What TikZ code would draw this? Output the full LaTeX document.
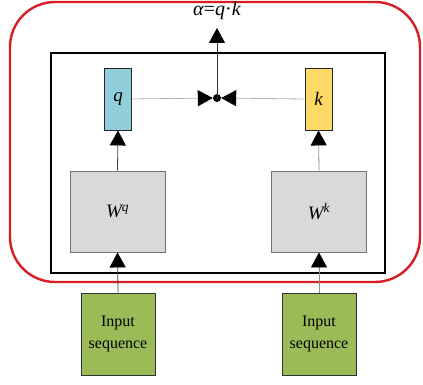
\documentclass[tikz,border=0pt]{standalone}
\usepackage{fontspec}
\setmainfont{Liberation Serif}
\usetikzlibrary{arrows.meta}
\definecolor{framered}{RGB}{214,30,36}
\definecolor{qblue}{RGB}{146,205,220}
\definecolor{kyellow}{RGB}{255,217,102}
\definecolor{wgray}{RGB}{217,217,217}
\definecolor{ingreen}{RGB}{155,187,89}
\tikzset{
  vecbox/.style={draw=black!85, line width=0.9pt, minimum width=27pt, minimum height=62pt, inner sep=0pt, font=\fontsize{19}{19}\selectfont\itshape},
  wbox/.style={draw=gray!90!black, fill=wgray, line width=0.9pt, minimum width=95pt, minimum height=81pt, inner sep=0pt, font=\fontsize{19}{19}\selectfont},
  inbox/.style={draw=black!80, fill=ingreen, line width=0.9pt, minimum width=74pt, minimum height=82pt, inner sep=0pt, align=center, font=\fontsize{16}{22}\selectfont},
  tri/.style={-{Triangle[width=16pt,length=15pt,color=black,fill=black]}},
  feed/.style={tri, line width=0.8pt, draw=black!75},
  hline/.style={line width=0.8pt, draw=black!30},
}
\begin{document}
\begin{tikzpicture}[x=1pt,y=-1pt]
\useasboundingbox (0,0) rectangle (423,385);
% outer module frame
\draw[framered, line width=2.4pt, rounded corners=45pt] (10,2) rectangle (420,282);
% attention block
\draw[black, line width=2.4pt] (51,53) rectangle (385,273);

% query / key vectors
\node[vecbox, fill=qblue] (q) at (118,99) {q};
\node[vecbox, fill=kyellow] (k) at (318.5,99) {k};

% projection matrices
\node[wbox] (wq) at (117.5,211.5) {$\mathit{W}^{\mathit{q}}$};
\node[wbox] (wk) at (319,211.5) {$\mathit{W}^{\mathit{k}}$};

% inputs
\node[inbox] (in1) at (118,334) {Input\\sequence};
\node[inbox] (in2) at (319,334) {Input\\sequence};

% dot product
\node[circle, fill=black, minimum size=8pt, inner sep=0pt] (dot) at (217,98) {};
\coordinate (out) at (217,28);
\node[font=\fontsize{20}{20}\selectfont] (alpha) at (217,11) {\textit{α}=\textit{q}·\textit{k}};

% connectors
\draw[feed] (in1.north) -- (wq.south);
\draw[feed, draw=black!45] (in2.north) -- (wk.south);
\draw[feed] (wq.north) -- (q.south);
\draw[feed, draw=black!45] (wk.north) -- (k.south);
\draw[hline, tri] (q.east) -- (dot.west);
\draw[hline, tri] (k.west) -- (dot.east);
\draw[tri, line width=0.8pt, draw=black!80] (dot.center) -- (out);
\end{tikzpicture}
\end{document}
